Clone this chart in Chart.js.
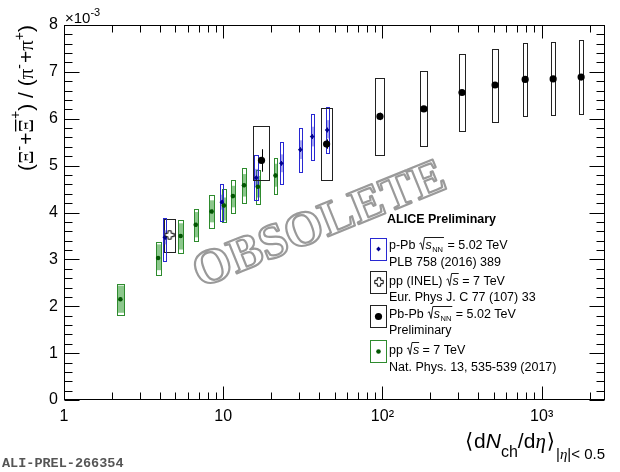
<!DOCTYPE html>
<html><head><meta charset="utf-8">
<script src="https://cdn.jsdelivr.net/npm/chart.js@4.4.1/dist/chart.umd.min.js"></script>
<style>html,body{margin:0;padding:0;background:#fff;}#wrap{width:620px;height:472px;position:relative;}</style>
</head><body><div id="wrap"><canvas id="c" width="620" height="472"></canvas></div>
<script>
// ---------------- DATA (ratio values in units of 10^-3) ----------------
const xTickValues = [1, 10, 100, 1000];
const xTickLabels = ['1', '10', '10²', '10³'];
const yTickValues = [0, 1, 2, 3, 4, 5, 6, 7, 8];

// pp sqrt(s) = 7 TeV, Nat. Phys. 13, 535-539 (2017)
const ppMult     = [2.26, 3.90, 5.40, 6.72, 8.45, 10.1, 11.5, 13.5, 16.5, 21.3];
const ppMultErr  = [0.12, 0.14, 0.17, 0.21, 0.25, 0.30, 0.30, 0.40, 0.50, 0.60];
const ppRatio    = [2.15, 3.03, 3.50, 3.74, 4.02, 4.15, 4.35, 4.58, 4.55, 4.79];
const ppStat     = [0.04, 0.04, 0.04, 0.04, 0.04, 0.04, 0.04, 0.04, 0.04, 0.04];
const ppSysLow   = [1.82, 2.67, 3.14, 3.39, 3.67, 3.79, 3.99, 4.21, 4.18, 4.40];
const ppSysHigh  = [2.48, 3.38, 3.84, 4.08, 4.38, 4.50, 4.70, 4.95, 4.91, 5.16];
const ppUncLow   = [1.86, 2.77, 3.21, 3.47, 3.79, 3.83, 4.11, 4.34, 4.32, 4.55];
const ppUncHigh  = [2.44, 3.32, 3.77, 4.01, 4.26, 4.32, 4.57, 4.82, 4.78, 5.04];

// p-Pb sqrt(sNN) = 5.02 TeV, PLB 758 (2016) 389
const pPbMult    = [4.3, 9.8, 16.1, 23.2, 30.5, 36.2, 45.0];
const pPbMultErr = [0.1, 0.2, 0.4, 0.5, 0.7, 0.8, 1.0];
const pPbRatio   = [3.47, 4.22, 4.74, 5.05, 5.34, 5.62, 5.76];
const pPbStat    = [0.05, 0.05, 0.05, 0.05, 0.05, 0.05, 0.05];
const pPbSysLow  = [2.96, 3.81, 4.27, 4.60, 4.86, 5.12, 5.26];
const pPbSysHigh = [3.89, 4.60, 5.23, 5.50, 5.80, 6.11, 6.24];
const pPbUncLow  = [3.32, 4.06, 4.54, 4.86, 5.14, 5.41, 5.58];
const pPbUncHigh = [3.62, 4.38, 4.93, 5.24, 5.54, 5.83, 5.97];

// pp (INEL) sqrt(s) = 7 TeV, Eur. Phys J. C 77 (107) 33
const inelMult    = [4.6];
const inelMultErr = [0.36];
const inelRatio   = [3.52];
const inelStat    = [0.03];
const inelSysLow  = [3.16];
const inelSysHigh = [3.87];

// Pb-Pb sqrt(sNN) = 5.02 TeV, Preliminary
const pbpbMult    = [17.4, 44.6, 96.5, 182, 316, 510, 788, 1181, 1770];
const pbpbMultErr = [2.1, 3.6, 6.4, 9, 14, 19, 26, 34, 51];
const pbpbRatio   = [5.11, 5.46, 6.05, 6.21, 6.56, 6.72, 6.84, 6.85, 6.89];
const pbpbStat    = [0.24, 0.10, 0.08, 0.05, 0.05, 0.05, 0.04, 0.04, 0.04];
const pbpbSysLow  = [4.70, 4.70, 5.23, 5.41, 5.74, 5.94, 6.06, 6.08, 6.10];
const pbpbSysHigh = [5.84, 6.23, 6.87, 7.01, 7.38, 7.49, 7.62, 7.63, 7.67];

// ---------------- STYLE ----------------
const SANS = '"Liberation Sans", Arial, "DejaVu Sans", sans-serif';
const SERIF = '"Liberation Serif", "DejaVu Serif", serif';
const MONO = '"Liberation Mono", "DejaVu Sans Mono", monospace';
const GREEN_LINE = '#2e8b2e', GREEN_FILL = 'rgba(70,165,70,0.62)', GREEN_MK = '#005500';
const BLUE_LINE = '#2828d2', BLUE_FILL = 'rgba(60,60,215,0.45)', BLUE_MK = '#00008c';

function openCross(size, lw) {
  const c = document.createElement('canvas');
  c.width = size; c.height = size;
  const g = c.getContext('2d');
  const a = size / 2, t = size * 0.17, e = size / 2 - 0.8;
  g.beginPath();
  g.moveTo(a - t, a - e); g.lineTo(a + t, a - e); g.lineTo(a + t, a - t); g.lineTo(a + e, a - t);
  g.lineTo(a + e, a + t); g.lineTo(a + t, a + t); g.lineTo(a + t, a + e); g.lineTo(a - t, a + e);
  g.lineTo(a - t, a + t); g.lineTo(a - e, a + t); g.lineTo(a - e, a - t); g.lineTo(a - t, a - t);
  g.closePath();
  g.fillStyle = '#fff'; g.fill();
  g.strokeStyle = '#000'; g.lineWidth = lw; g.stroke();
  return c;
}
const crossImg = openCross(10, 1);

const series = [
  { x: ppMult, xe: ppMultErr, y: ppRatio, st: ppStat, lo: ppSysLow, hi: ppSysHigh, ulo: ppUncLow, uhi: ppUncHigh, line: GREEN_LINE, fill: GREEN_FILL, stc: GREEN_MK },
  { x: inelMult, xe: inelMultErr, y: inelRatio, st: inelStat, lo: inelSysLow, hi: inelSysHigh, line: '#222', stc: '#000' },
  { x: pPbMult, xe: pPbMultErr, y: pPbRatio, st: pPbStat, lo: pPbSysLow, hi: pPbSysHigh, ulo: pPbUncLow, uhi: pPbUncHigh, line: BLUE_LINE, fill: BLUE_FILL, stc: BLUE_MK },
  { x: pbpbMult, xe: pbpbMultErr, y: pbpbRatio, st: pbpbStat, lo: pbpbSysLow, hi: pbpbSysHigh, line: '#222', stc: '#000' }
];

function pts(xs, ys) { return xs.map((v, i) => ({ x: v, y: ys[i] })); }

const boxPlugin = {
  id: 'boxes',
  beforeDatasetsDraw(chart) {
    const ctx = chart.ctx, xs = chart.scales.x, ys = chart.scales.y;
    ctx.save();
    series.forEach(s => {
      for (let i = 0; i < s.x.length; i++) {
        const xl = Math.round(xs.getPixelForValue(s.x[i] - s.xe[i])), xr = Math.round(xs.getPixelForValue(s.x[i] + s.xe[i]));
        if (s.ulo) {
          const yt = ys.getPixelForValue(s.uhi[i]), yb = ys.getPixelForValue(s.ulo[i]);
          ctx.fillStyle = s.fill;
          ctx.fillRect(xl, yt, xr - xl, yb - yt);
        }
        const yt = Math.round(ys.getPixelForValue(s.hi[i])), yb = Math.round(ys.getPixelForValue(s.lo[i]));
        ctx.strokeStyle = s.line; ctx.lineWidth = 1;
        ctx.strokeRect(xl + 0.5, yt + 0.5, xr - xl, yb - yt);
        const xc = Math.round(xs.getPixelForValue(s.x[i])) + 0.5;
        ctx.strokeStyle = s.stc;
        ctx.beginPath();
        ctx.moveTo(xc, ys.getPixelForValue(s.y[i] + s.st[i]));
        ctx.lineTo(xc, ys.getPixelForValue(s.y[i] - s.st[i]));
        ctx.stroke();
      }
    });
    ctx.restore();
  }
};

function drawParts(ctx, parts, x, y) {
  let cx = x;
  parts.forEach(p => {
    ctx.font = p.f;
    cx += (p.pre || 0);
    ctx.fillText(p.t, cx, y + (p.dy || 0));
    const w = ctx.measureText(p.t).width;
    if (p.bar) ctx.fillRect(cx + 1, y + p.bar, w - 1.5, 1.3);
    cx += w + (p.sp || 0);
  });
  return cx;
}
function partsWidth(ctx, parts) {
  let w = 0;
  parts.forEach(p => { ctx.font = p.f; w += ctx.measureText(p.t).width + (p.sp || 0) + (p.pre || 0); });
  return w;
}
function sqrtText(ctx, x, y, size, pre, sub, post) {
  ctx.font = size + 'px ' + SANS;
  ctx.fillText(pre, x, y);
  x += ctx.measureText(pre).width;
  const r0 = x;
  x += 6.5;
  ctx.font = 'italic ' + size + 'px ' + SANS;
  ctx.fillText('s', x, y);
  x += ctx.measureText('s').width;
  if (sub) {
    ctx.font = (size * 0.6) + 'px ' + SANS;
    ctx.fillText(sub, x + 0.5, y + 2.5);
    x += ctx.measureText(sub).width + 1.5;
  }
  ctx.save();
  ctx.lineWidth = 0.9; ctx.strokeStyle = '#000';
  ctx.beginPath();
  ctx.moveTo(r0 + 0.5, y - size * 0.42);
  ctx.lineTo(r0 + 2, y - size * 0.5);
  ctx.lineTo(r0 + 3.8, y + 0.5);
  ctx.lineTo(r0 + 5.6, y - size * 0.92);
  ctx.lineTo(x, y - size * 0.92);
  ctx.stroke();
  ctx.restore();
  ctx.font = size + 'px ' + SANS;
  ctx.fillText(post, x, y);
}

const framePlugin = {
  id: 'frame',
  afterDraw(chart) {
    const ctx = chart.ctx, a = chart.chartArea, xs = chart.scales.x, ys = chart.scales.y;
    const L = Math.round(a.left) + 0.5, R = Math.round(a.right) - 0.5, T = Math.round(a.top) + 0.5, B = Math.round(a.bottom) - 0.5;
    ctx.save();
    ctx.strokeStyle = '#000'; ctx.lineWidth = 1;
    ctx.strokeRect(L, T, R - L, B - T);
    ctx.beginPath();
    for (let d = 1; d <= 1000; d *= 10) {
      for (let m = 1; m <= 9; m++) {
        const v = d * m;
        if (v < xs.min || v > xs.max) continue;
        const px = Math.round(xs.getPixelForValue(v)) + 0.5;
        const len = m === 1 ? 13 : 7;
        ctx.moveTo(px, B); ctx.lineTo(px, B - len);
        ctx.moveTo(px, T); ctx.lineTo(px, T + len);
      }
    }
    for (let k = 0; k <= 40; k++) {
      const v = k * 0.2;
      const py = Math.round(ys.getPixelForValue(v)) + 0.5;
      const len = k % 5 === 0 ? 15 : 8;
      ctx.moveTo(L, py); ctx.lineTo(L + len, py);
      ctx.moveTo(R, py); ctx.lineTo(R - len, py);
    }
    ctx.stroke();

    ctx.fillStyle = '#000';
    ctx.textBaseline = 'alphabetic';
    ctx.textAlign = 'left';
    drawParts(ctx, [
      { t: '×10', f: '15px ' + SANS },
      { t: '-3', f: '11px ' + SANS, dy: -7 }
    ], a.left + 1, a.top - 2);

    // y title
    ctx.save();
    ctx.translate(33, a.top);
    ctx.rotate(-Math.PI / 2);
    const fs = 21, fsS = 14;
    const yParts = [
      { t: '(', f: fs + 'px ' + SANS },
      { t: 'Ξ', f: fs + 'px ' + SERIF },
      { t: '-', f: fsS + 'px ' + SANS, dy: -9, sp: 1 },
      { t: '+', f: fs + 'px ' + SANS },
      { t: 'Ξ', f: fs + 'px ' + SERIF, bar: -18 },
      { t: '+', f: fsS + 'px ' + SANS, dy: -13 },
      { t: ') / (', f: fs + 'px ' + SANS },
      { t: 'π', f: fs + 'px ' + SERIF },
      { t: '-', f: fsS + 'px ' + SANS, dy: -9, sp: 1 },
      { t: '+', f: fs + 'px ' + SANS },
      { t: 'π', f: fs + 'px ' + SERIF },
      { t: '+', f: fsS + 'px ' + SANS, dy: -9 },
      { t: ')', f: fs + 'px ' + SANS }
    ];
    const yw = partsWidth(ctx, yParts);
    drawParts(ctx, yParts, -yw, 0);
    ctx.restore();

    // x title
    const xParts = [
      { t: '⟨', f: '21px ' + SANS, sp: 1 },
      { t: 'd', f: '21px ' + SANS },
      { t: 'N', f: 'italic 21px ' + SANS },
      { t: 'ch', f: '16px ' + SANS, dy: 9 },
      { t: '/d', f: '21px ' + SANS },
      { t: 'η', f: 'italic 21px ' + SERIF, sp: 1 },
      { t: '⟩', f: '21px ' + SANS, sp: 1 },
      { t: '|', f: '15px ' + SANS, dy: 11 },
      { t: 'η', f: 'italic 15px ' + SERIF, dy: 11 },
      { t: '|< 0.5', f: '15px ' + SANS, dy: 11 }
    ];
    const xw = partsWidth(ctx, xParts);
    drawParts(ctx, xParts, 605 - xw, 448);

    ctx.fillStyle = '#555';
    ctx.font = 'bold 13.5px ' + MONO;
    ctx.fillText('ALI-PREL-266354', 2, 467);

    // legend
    ctx.fillStyle = '#000';
    ctx.font = 'bold 12.5px ' + SANS;
    ctx.fillText('ALICE Preliminary', 387, 223);
    const bx = 370, bw = 16, bh = 22;
    const boxes = [
      { y: 238, c: BLUE_LINE },
      { y: 271, c: '#222' },
      { y: 305, c: '#222' },
      { y: 340, c: GREEN_LINE }
    ];
    boxes.forEach(b => {
      ctx.strokeStyle = b.c; ctx.lineWidth = 1;
      ctx.strokeRect(bx + 0.5, b.y + 0.5, bw, bh);
    });
    const mx = bx + 0.5 + bw / 2;
    ctx.fillStyle = BLUE_MK;
    ctx.beginPath(); ctx.moveTo(mx, 246.5); ctx.lineTo(mx + 2.3, 249); ctx.lineTo(mx, 251.5); ctx.lineTo(mx - 2.3, 249); ctx.closePath(); ctx.fill();
    ctx.drawImage(crossImg, Math.round(mx - 5), 277);
    ctx.fillStyle = '#000';
    ctx.beginPath(); ctx.arc(mx, 316.5, 3.6, 0, Math.PI * 2); ctx.fill();
    ctx.fillStyle = GREEN_MK;
    ctx.beginPath(); ctx.arc(mx, 351.5, 2.3, 0, Math.PI * 2); ctx.fill();

    ctx.fillStyle = '#000';
    const ts = 12.5, tx = 389;
    sqrtText(ctx, tx, 249, ts, 'p-Pb ', 'NN', ' = 5.02 TeV');
    ctx.font = ts + 'px ' + SANS; ctx.fillText('PLB 758 (2016) 389', tx, 266);
    sqrtText(ctx, tx, 285, ts, 'pp (INEL) ', '', ' = 7 TeV');
    ctx.font = ts + 'px ' + SANS; ctx.fillText('Eur. Phys J. C 77 (107) 33', tx, 301);
    sqrtText(ctx, tx, 318, ts, 'Pb-Pb ', 'NN', ' = 5.02 TeV');
    ctx.font = ts + 'px ' + SANS; ctx.fillText('Preliminary', tx, 334);
    sqrtText(ctx, tx, 354, ts, 'pp ', '', ' = 7 TeV');
    ctx.font = ts + 'px ' + SANS; ctx.fillText('Nat. Phys. 13, 535-539 (2017)', tx, 371);

    // OBSOLETE watermark
    ctx.save();
    ctx.translate(320, 226);
    ctx.rotate(-22 * Math.PI / 180);
    let wf = 50;
    ctx.font = 'bold ' + wf + 'px ' + SERIF;
    const w0 = ctx.measureText('OBSOLETE').width;
    wf = wf * 268 / w0;
    ctx.font = 'bold ' + wf + 'px ' + SERIF;
    ctx.textAlign = 'center';
    ctx.textBaseline = 'middle';
    ctx.strokeStyle = '#9a9a9a';
    ctx.lineWidth = 2.2;
    ctx.lineJoin = 'round';
    ctx.strokeText('OBSOLETE', 0, 0);
    ctx.restore();

    ctx.restore();
  }
};

new Chart(document.getElementById('c'), {
  type: 'scatter',
  data: {
    datasets: [
      { data: pts(ppMult, ppRatio), pointStyle: 'circle', pointRadius: 2.3, backgroundColor: GREEN_MK, borderColor: GREEN_MK, borderWidth: 0 },
      { data: pts(inelMult, inelRatio), pointStyle: crossImg, pointRadius: 5 },
      { data: pts(pPbMult, pPbRatio), pointStyle: 'rectRot', pointRadius: 2.4, backgroundColor: BLUE_MK, borderColor: BLUE_MK, borderWidth: 0 },
      { data: pts(pbpbMult, pbpbRatio), pointStyle: 'circle', pointRadius: 3.6, backgroundColor: '#000', borderColor: '#000', borderWidth: 0 }
    ]
  },
  options: {
    responsive: false,
    animation: false,
    devicePixelRatio: 1,
    events: [],
    layout: { padding: { left: 0, right: 15, top: 25, bottom: 0 } },
    plugins: { legend: { display: false }, tooltip: { enabled: false } },
    scales: {
      x: {
        type: 'logarithmic', min: 1, max: 2500, position: 'bottom',
        afterBuildTicks: s => { s.ticks = xTickValues.map(v => ({ value: v, major: true })); },
        afterFit: s => { s.height = 72; },
        grid: { display: false, drawTicks: false }, border: { display: false },
        ticks: {
          autoSkip: false, maxRotation: 0, minRotation: 0, padding: 7, color: '#000',
          font: { family: SANS, size: 16 },
          callback: v => { const i = xTickValues.indexOf(v); return i >= 0 ? xTickLabels[i] : ''; }
        }
      },
      y: {
        min: 0, max: 8,
        afterBuildTicks: s => { s.ticks = yTickValues.map(v => ({ value: v })); },
        afterFit: s => { s.width = 64; },
        grid: { display: false, drawTicks: false }, border: { display: false },
        ticks: { padding: 6, color: '#000', font: { family: SANS, size: 16 }, callback: v => String(v) }
      }
    }
  },
  plugins: [boxPlugin, framePlugin]
});
</script></body></html>
